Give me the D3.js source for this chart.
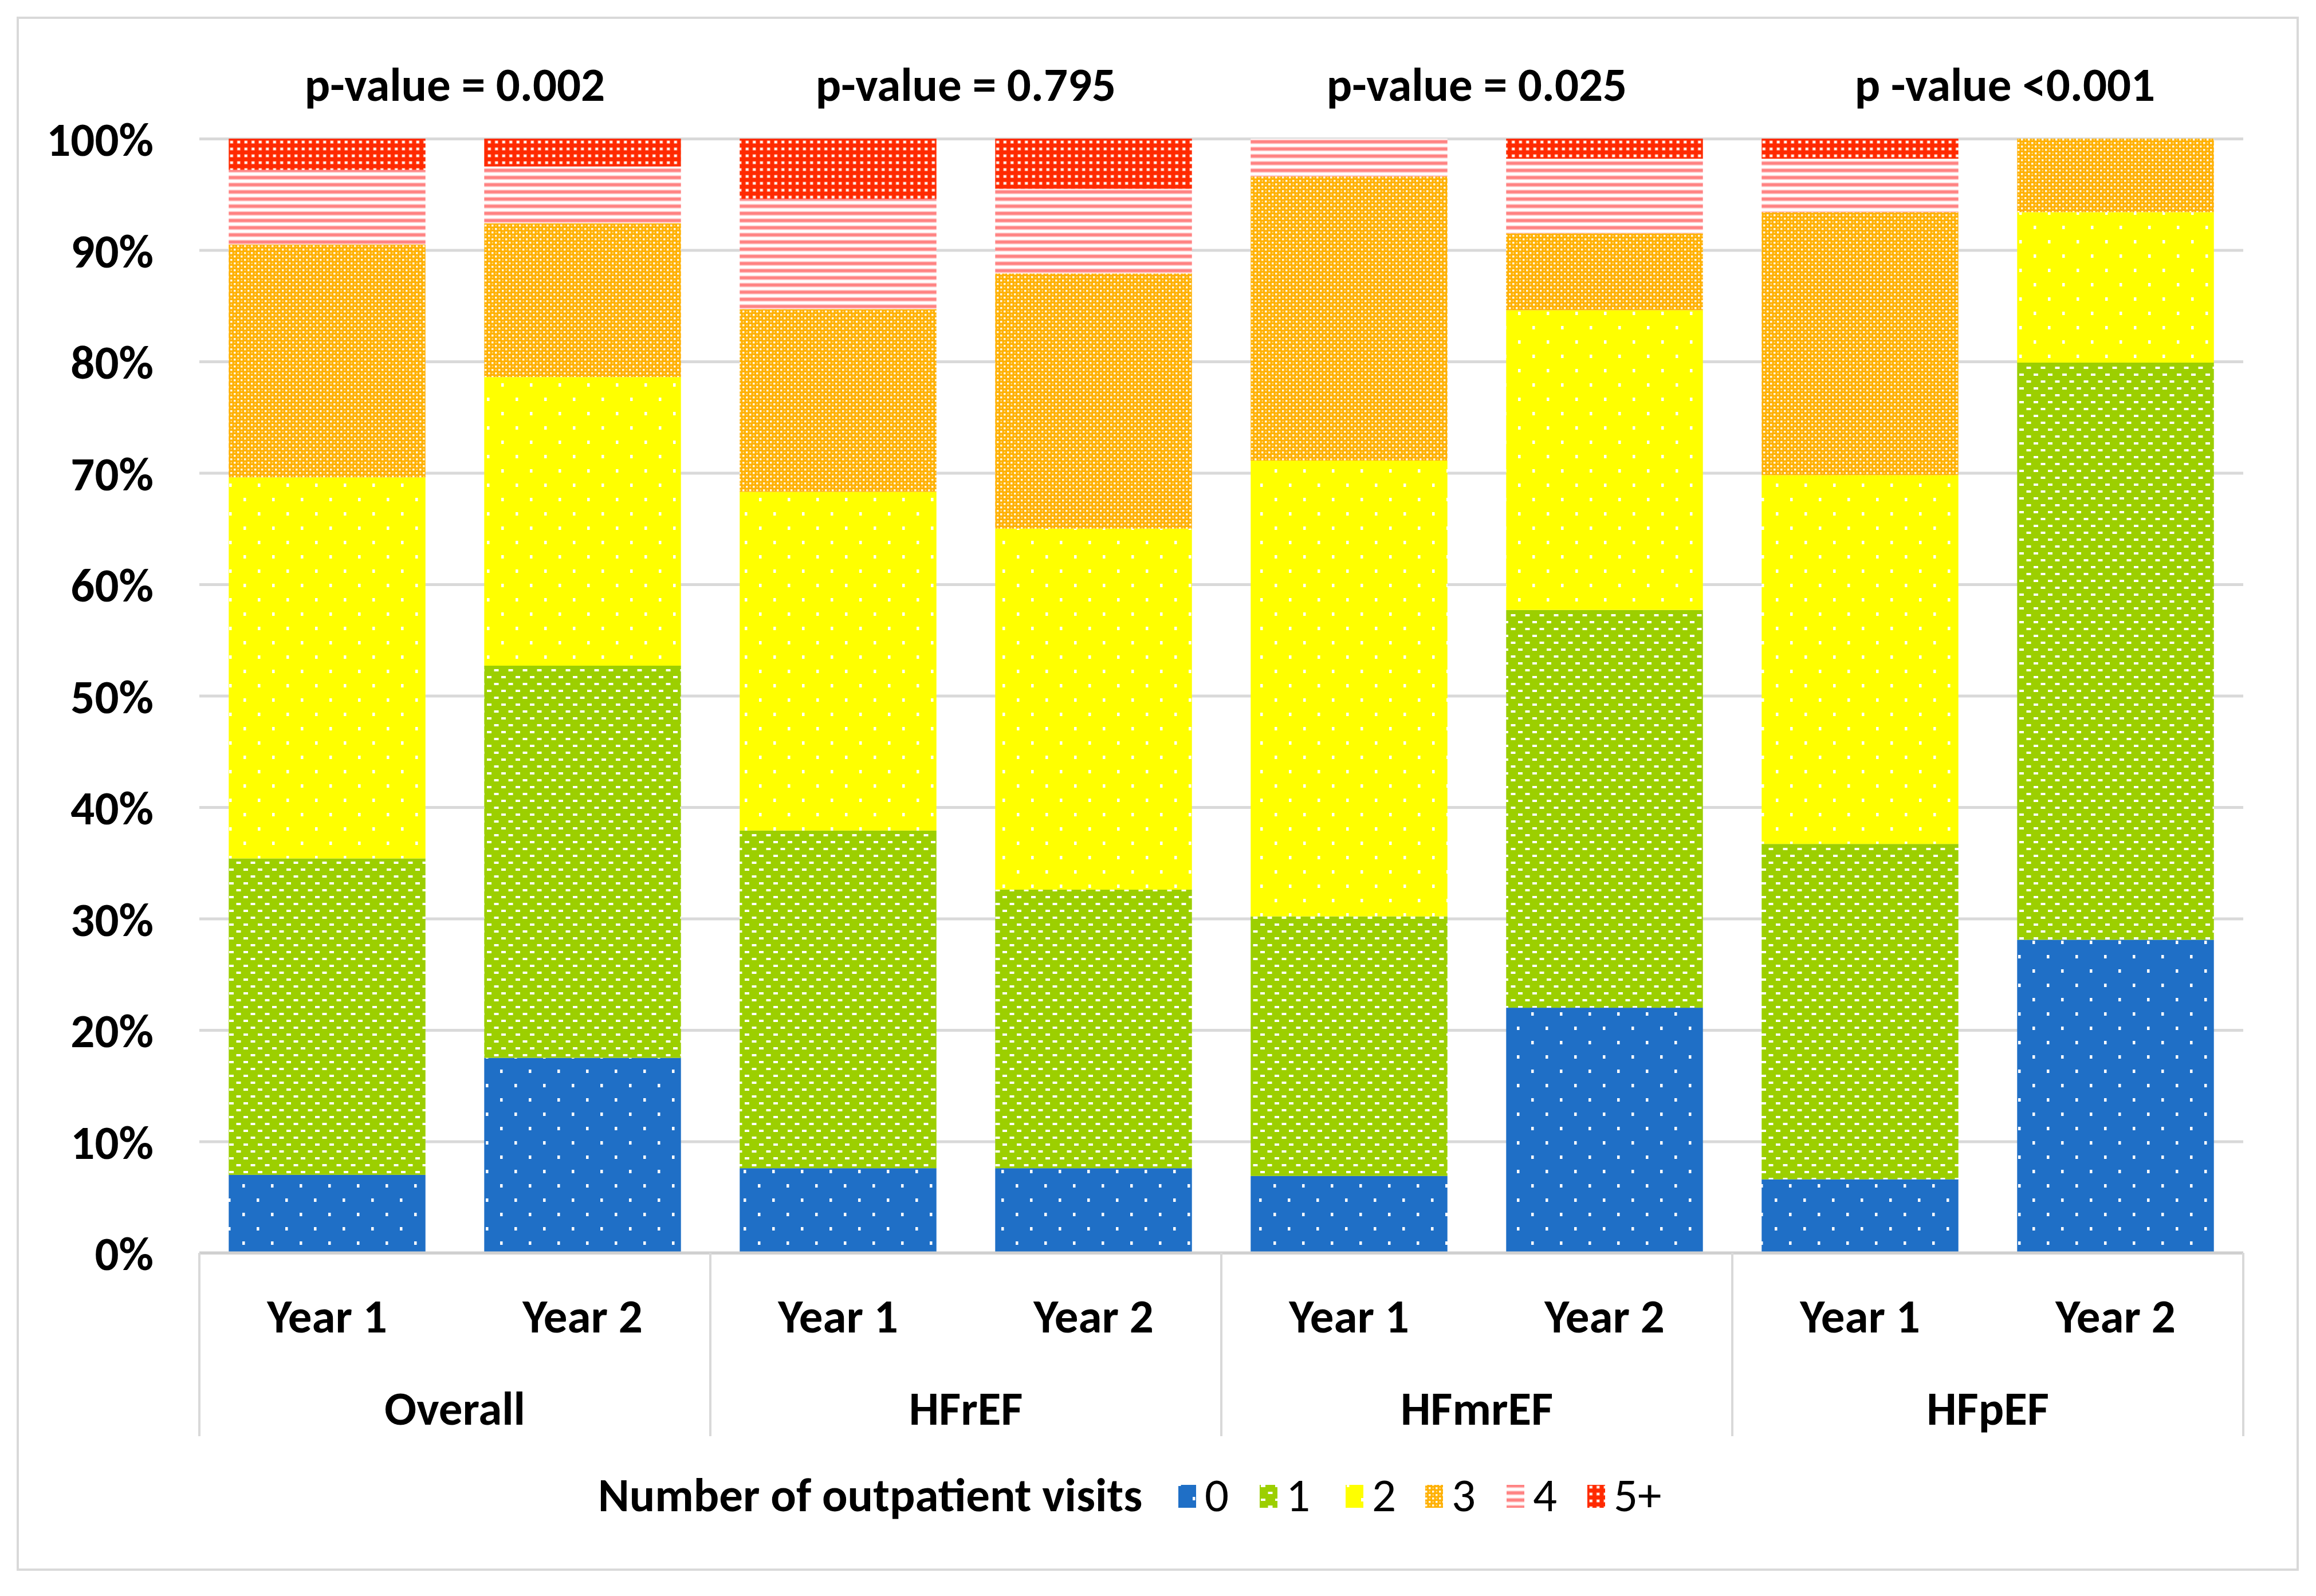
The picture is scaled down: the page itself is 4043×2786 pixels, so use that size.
<!DOCTYPE html>
<html>
<head>
<meta charset="utf-8">
<script src="https://cdn.jsdelivr.net/npm/d3@7"></script>
<style>
  html, body { margin: 0; padding: 0; background: #fff; }
  text { font-family: Calibri, Carlito, Roboto, "Open Sans", sans-serif; font-weight: bold; fill: #000; }
</style>
</head>
<body>
<svg id="chart" width="4043" height="2786"></svg>
<script>
// categories
var groups = ["Overall", "HFrEF", "HFmrEF", "HFpEF"];
var years = ["Year 1", "Year 2"];
var pvalues = ["p-value = 0.002", "p-value = 0.795", "p-value = 0.025", "p -value <0.001"];
var yTicks = [0, 0.1, 0.2, 0.3, 0.4, 0.5, 0.6, 0.7, 0.8, 0.9, 1];

// share of patients (%) per bar, order: Overall Y1, Y2, HFrEF Y1, Y2, HFmrEF Y1, Y2, HFpEF Y1, Y2
var visits0  = [7.0, 17.5, 7.6, 7.6, 6.9, 22.0, 6.6, 28.1];
var visits1  = [28.4, 35.2, 30.3, 25.0, 23.3, 35.7, 30.1, 51.8];
var visits2  = [34.2, 25.9, 30.4, 32.4, 40.9, 26.9, 33.1, 13.5];
var visits3  = [20.9, 13.8, 16.4, 22.9, 25.5, 6.9, 23.6, 6.6];
var visits4  = [6.7, 5.1, 9.9, 7.6, 3.4, 6.7, 4.8, 0];
var visits5p = [2.8, 2.5, 5.4, 4.5, 0, 1.8, 1.8, 0];

var seriesKeys = ["0", "1", "2", "3", "4", "5+"];
var seriesVals = [visits0, visits1, visits2, visits3, visits4, visits5p];

var svg = d3.select("#chart"),
    margin = {top: 242, right: 127, bottom: 599, left: 348},
    width = +svg.attr("width") - margin.left - margin.right,
    height = +svg.attr("height") - margin.top - margin.bottom,
    fontSize = "83px";

// ---- fill patterns ----
var defs = svg.append("defs");

function pat(id, w, h, bg) {
  var p = defs.append("pattern")
      .attr("id", id)
      .attr("patternUnits", "userSpaceOnUse")
      .attr("width", w)
      .attr("height", h);
  p.append("rect").attr("width", w).attr("height", h).attr("fill", bg);
  return p;
}

// 0: blue, sparse white dots
var p0 = pat("p0", 50, 50, "#1f6fc6");
p0.append("rect").attr("x", 0).attr("y", 0).attr("width", 4.5).attr("height", 6).attr("fill", "#fff");
p0.append("rect").attr("x", 25).attr("y", 25).attr("width", 4.5).attr("height", 6).attr("fill", "#fff");

// 1: green, white dashes
var p1 = pat("p1", 25, 24, "#9ccf00");
p1.append("rect").attr("x", 2).attr("y", 2).attr("width", 8).attr("height", 4).attr("fill", "#fff");
p1.append("rect").attr("x", 14.5).attr("y", 14).attr("width", 8).attr("height", 4).attr("fill", "#fff");

// 2: yellow, sparse white dots
var p2 = pat("p2", 50, 50, "#ffff00");
p2.append("rect").attr("x", 2).attr("y", 2).attr("width", 4.5).attr("height", 6).attr("fill", "#fff");
p2.append("rect").attr("x", 27).attr("y", 27).attr("width", 4.5).attr("height", 6).attr("fill", "#fff");

// 3: orange, diamond lattice
var p3 = pat("p3", 12, 12, "#ffb000");
p3.append("rect").attr("x", 0).attr("y", 0).attr("width", 3.5).attr("height", 3.5).attr("fill", "#fff").attr("opacity", 0.9);
p3.append("rect").attr("x", 6).attr("y", 6).attr("width", 3.5).attr("height", 3.5).attr("fill", "#fff").attr("opacity", 0.9);
p3.append("rect").attr("x", 0.5).attr("y", 6.5).attr("width", 2.5).attr("height", 2.5).attr("fill", "#fff").attr("opacity", 0.45);
p3.append("rect").attr("x", 6.5).attr("y", 0.5).attr("width", 2.5).attr("height", 2.5).attr("fill", "#fff").attr("opacity", 0.45);

// 4: salmon horizontal stripes
var p4 = pat("p4", 20, 12.5, "#ffffff");
p4.append("rect").attr("x", 0).attr("y", 3).attr("width", 20).attr("height", 5).attr("fill", "#ff6a6a");
p4.append("rect").attr("x", 0).attr("y", 1.5).attr("width", 20).attr("height", 8).attr("fill", "#ff9a9a").attr("opacity", 0.5);

// 5+: red, white dot grid
var p5 = pat("p5", 12.5, 12, "#ff2a00");
p5.append("rect").attr("x", 3.5).attr("y", 3.5).attr("width", 5.5).attr("height", 5).attr("fill", "#ffd0c0");
p5.append("rect").attr("x", 4.5).attr("y", 4.5).attr("width", 3.5).attr("height", 3).attr("fill", "#fff");

var fills = ["url(#p0)", "url(#p1)", "url(#p2)", "url(#p3)", "url(#p4)", "url(#p5)"];

// ---- outer frame ----
svg.append("rect")
    .attr("x", 31).attr("y", 31)
    .attr("width", 3980).attr("height", 2709)
    .attr("fill", "none")
    .attr("stroke", "#d9d9d9")
    .attr("stroke-width", 4);

var g = svg.append("g")
    .attr("transform", "translate(" + margin.left + "," + margin.top + ")");

// ---- scales ----
var xGroup = d3.scaleBand().domain(groups).range([0, width]);
var xYear = d3.scaleBand().domain(years).range([0, xGroup.bandwidth()])
    .paddingInner(0.23).paddingOuter(0.115);
var y = d3.scaleLinear().domain([0, 1]).range([height, 0]);

// rows for stacking
var rows = [];
groups.forEach(function(gr, gi) {
  years.forEach(function(yr, yi) {
    var i = gi * 2 + yi, row = {group: gr, year: yr};
    seriesKeys.forEach(function(k, s) { row[k] = seriesVals[s][i] / 100; });
    rows.push(row);
  });
});

var stacked = d3.stack().keys(seriesKeys)(rows);

// ---- gridlines + y labels ----
var yAxis = g.append("g")
    .attr("class", "axis axis--y")
    .call(d3.axisLeft(y).tickValues(yTicks).tickFormat(d3.format(".0%"))
      .tickSize(-width).tickPadding(80));
yAxis.select(".domain").remove();
yAxis.selectAll("line")
    .attr("stroke", "#d9d9d9")
    .attr("stroke-width", 5);
yAxis.selectAll("text")
    .style("font-size", fontSize)
    .style("font-weight", "bold")
    .attr("fill", "#000")
    .attr("dy", "0.36em");

// ---- bars ----
g.selectAll(".series")
  .data(stacked)
  .enter().append("g")
    .attr("class", "series")
    .attr("fill", function(d, i) { return fills[i]; })
  .selectAll("rect")
  .data(function(d) { return d; })
  .enter().append("rect")
    .attr("x", function(d) { return xGroup(d.data.group) + xYear(d.data.year); })
    .attr("y", function(d) { return y(d[1]); })
    .attr("width", xYear.bandwidth())
    .attr("height", function(d) { return y(d[0]) - y(d[1]); });

// baseline redraw on top
g.append("line")
    .attr("x1", 0).attr("x2", width)
    .attr("y1", y(0)).attr("y2", y(0))
    .attr("stroke", "#d0d0d0")
    .attr("stroke-width", 5);

// ---- category axis (two levels) ----
var sepX = groups.map(function(gr) { return xGroup(gr); }).concat([width]);
g.selectAll(".sep")
  .data(sepX)
  .enter().append("line")
    .attr("class", "sep")
    .attr("x1", function(d) { return d; })
    .attr("x2", function(d) { return d; })
    .attr("y1", height)
    .attr("y2", height + 320)
    .attr("stroke", "#d9d9d9")
    .attr("stroke-width", 4);

groups.forEach(function(gr) {
  years.forEach(function(yr) {
    g.append("text")
        .attr("x", xGroup(gr) + xYear(yr) + xYear.bandwidth() / 2)
        .attr("y", height + 139)
        .attr("text-anchor", "middle")
        .style("font-size", fontSize)
        .text(yr);
  });
});

g.selectAll(".grp")
  .data(groups)
  .enter().append("text")
    .attr("class", "grp")
    .attr("x", function(d) { return xGroup(d) + xGroup.bandwidth() / 2; })
    .attr("y", height + 300)
    .attr("text-anchor", "middle")
    .style("font-size", fontSize)
    .text(function(d) { return d; });

// ---- p-values ----
g.selectAll(".pval")
  .data(pvalues)
  .enter().append("text")
    .attr("class", "pval")
    .attr("x", function(d, i) { return xGroup(groups[i]) + xGroup.bandwidth() / 2 + (i === 3 ? 30 : 0); })
    .attr("y", -66)
    .attr("text-anchor", "middle")
    .style("font-size", fontSize)
    .text(function(d) { return d; });

// ---- legend ----
var legend = svg.append("g").attr("transform", "translate(1044,2638)");
legend.append("text")
    .attr("x", 0).attr("y", 0)
    .style("font-size", fontSize)
    .text("Number of outpatient visits");

var legX = [1013, 1155, 1305, 1444, 1586, 1727];
var item = legend.selectAll(".leg")
  .data(seriesKeys)
  .enter().append("g")
    .attr("class", "leg")
    .attr("transform", function(d, i) { return "translate(" + legX[i] + ",0)"; });
item.append("rect")
    .attr("x", 0).attr("y", -46)
    .attr("width", 31).attr("height", 40)
    .attr("fill", function(d, i) { return fills[i]; });
item.append("text")
    .attr("x", 46).attr("y", 0)
    .style("font-size", fontSize)
    .style("font-weight", "normal")
    .text(function(d) { return d; });
</script>
</body>
</html>
